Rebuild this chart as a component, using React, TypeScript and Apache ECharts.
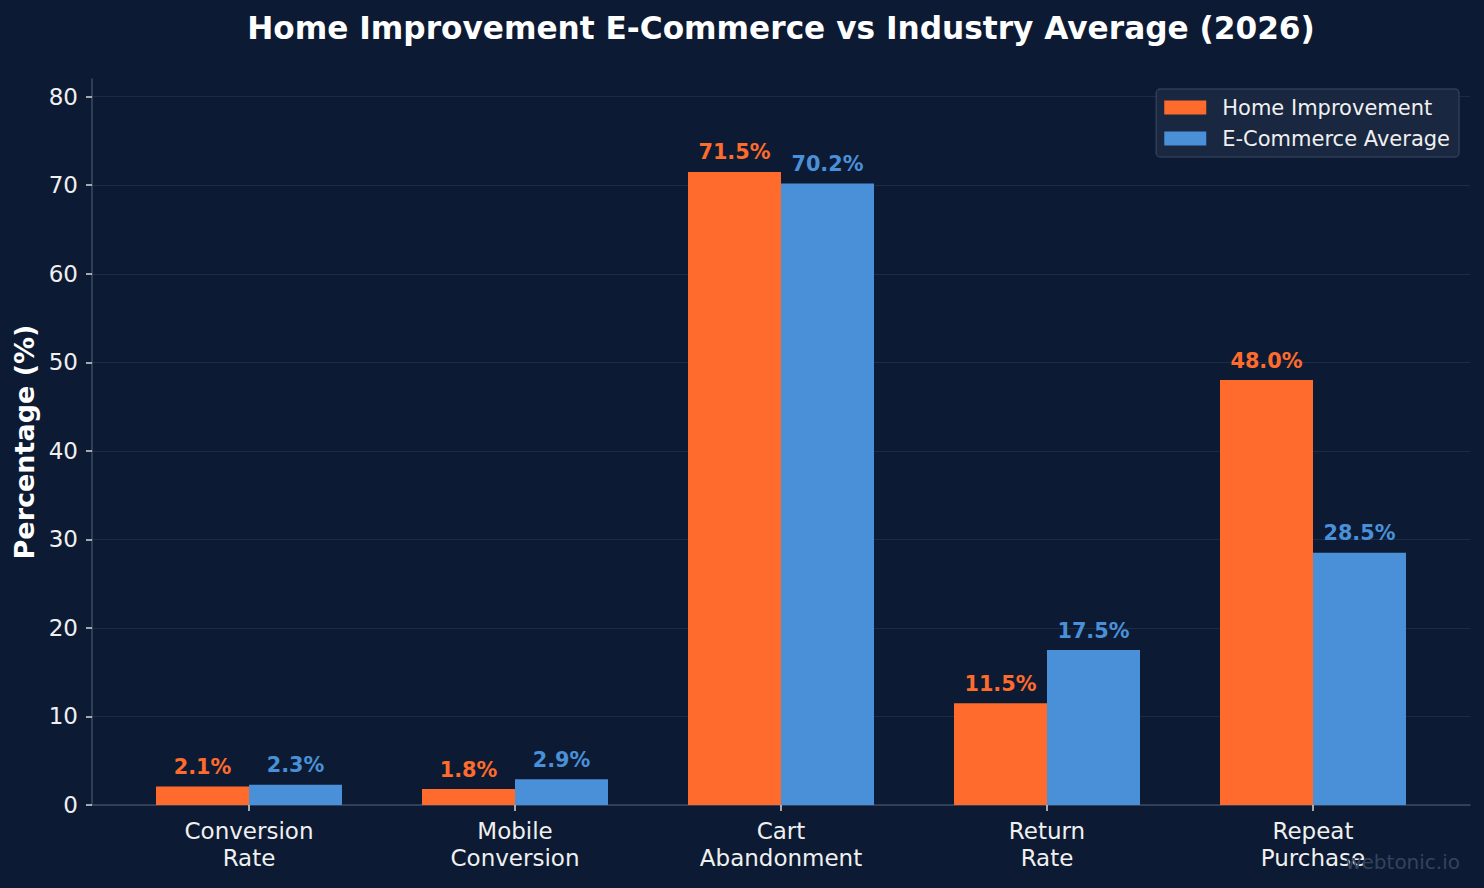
import React, { useEffect, useRef } from "react";
import * as echarts from "echarts";

const categories = ["Conversion\nRate", "Mobile\nConversion", "Cart\nAbandonment", "Return\nRate", "Repeat\nPurchase"];
const homeImprovement = [2.1, 1.8, 71.5, 11.5, 48.0];
const ecommerceAverage = [2.3, 2.9, 70.2, 17.5, 28.5];
const yTicks = [0, 10, 20, 30, 40, 50, 60, 70, 80];

const BG = "#0c1b33";
const ORANGE = "#ff6b2c";
const BLUE = "#4a90d9";
const FONT = "DejaVu Sans";

export default function App() {
  const ref = useRef<HTMLDivElement>(null);
  useEffect(() => {
    if (!ref.current) return;
    const chart = echarts.init(ref.current, undefined, { renderer: "svg" });
    const valueLabel = (color: string) => ({
      show: true,
      position: "top" as const,
      distance: 9,
      color,
      fontFamily: FONT,
      fontWeight: "bold" as const,
      fontSize: 20.8,
      formatter: (p: any) => Number(p.value).toFixed(1) + "%",
    });
    chart.setOption({
      animation: false,
      backgroundColor: BG,
      textStyle: { fontFamily: FONT },
      title: {
        text: "Home Improvement E-Commerce vs Industry Average (2026)",
        left: 781,
        top: 12,
        padding: 0,
        textAlign: "center",
        textStyle: { color: "#ffffff", fontSize: 31.2, fontWeight: "bold", fontFamily: FONT },
      },
      legend: {
        orient: "vertical",
        right: 25,
        top: 89,
        padding: [8, 9, 8, 8],
        itemWidth: 42,
        itemHeight: 14,
        itemGap: 10,
        icon: "rect",
        backgroundColor: "#1a2740",
        borderColor: "#2f3d56",
        borderWidth: 1.5,
        borderRadius: 4,
        textStyle: { color: "#f0f0f0", fontSize: 21, fontFamily: FONT, padding: [0, 0, 0, 11] },
        data: ["Home Improvement", "E-Commerce Average"],
      },
      graphic: [
        {
          type: "text",
          right: 24,
          top: 852,
          style: { text: "webtonic.io", fill: "#34435c", fontSize: 20, fontFamily: FONT },
          z: 100,
        },
      ],
      grid: [
        { left: 116, right: 38, top: 79, bottom: 83 },
        { left: 92, right: 14, top: 79, bottom: 83 },
      ],
      xAxis: [
        {
          type: "category",
          gridIndex: 0,
          data: categories,
          axisLine: { show: false },
          axisTick: { show: true, alignWithLabel: true, length: 6, lineStyle: { color: "#d8d8d8", width: 1.5 } },
          axisLabel: { color: "#f0f0f0", fontSize: 23, lineHeight: 27, margin: 12, fontFamily: FONT },
          splitLine: { show: false },
        },
        {
          type: "value",
          gridIndex: 1,
          min: 0,
          max: 1,
          axisLine: { show: true, lineStyle: { color: "#3b4a63", width: 1.5 } },
          axisTick: { show: false },
          axisLabel: { show: false },
          splitLine: { show: false },
        },
      ],
      yAxis: [
        {
          type: "value",
          gridIndex: 0,
          min: 0,
          max: 82,
          show: false,
          splitLine: { show: false },
        },
        {
          type: "value",
          gridIndex: 1,
          min: 0,
          max: 82,
          interval: 10,
          name: "Percentage (%)",
          nameLocation: "middle",
          nameGap: 51,
          nameTextStyle: { color: "#ffffff", fontSize: 27, fontWeight: "bold", fontFamily: FONT },
          axisLine: { show: true, onZero: false, lineStyle: { color: "#3b4a63", width: 1.5 } },
          axisTick: { show: true, length: 6, customValues: yTicks, lineStyle: { color: "#d8d8d8", width: 1.5 } },
          axisLabel: { color: "#f0f0f0", fontSize: 23, margin: 14, customValues: yTicks, fontFamily: FONT },
          splitLine: { show: true, lineStyle: { color: "#1d2b45", width: 1 } },
        },
      ],
      series: [
        {
          name: "Home Improvement",
          type: "bar",
          xAxisIndex: 0,
          yAxisIndex: 0,
          data: homeImprovement,
          barWidth: 93,
          barGap: "0%",
          itemStyle: { color: ORANGE },
          label: valueLabel(ORANGE),
        },
        {
          name: "E-Commerce Average",
          type: "bar",
          xAxisIndex: 0,
          yAxisIndex: 0,
          data: ecommerceAverage,
          barWidth: 93,
          barGap: "0%",
          itemStyle: { color: BLUE },
          label: valueLabel(BLUE),
        },
      ],
    });
    return () => chart.dispose();
  }, []);
  return <div ref={ref} style={{ position: "fixed", left: 0, top: 0, width: 1484, height: 888 }} />;
}
